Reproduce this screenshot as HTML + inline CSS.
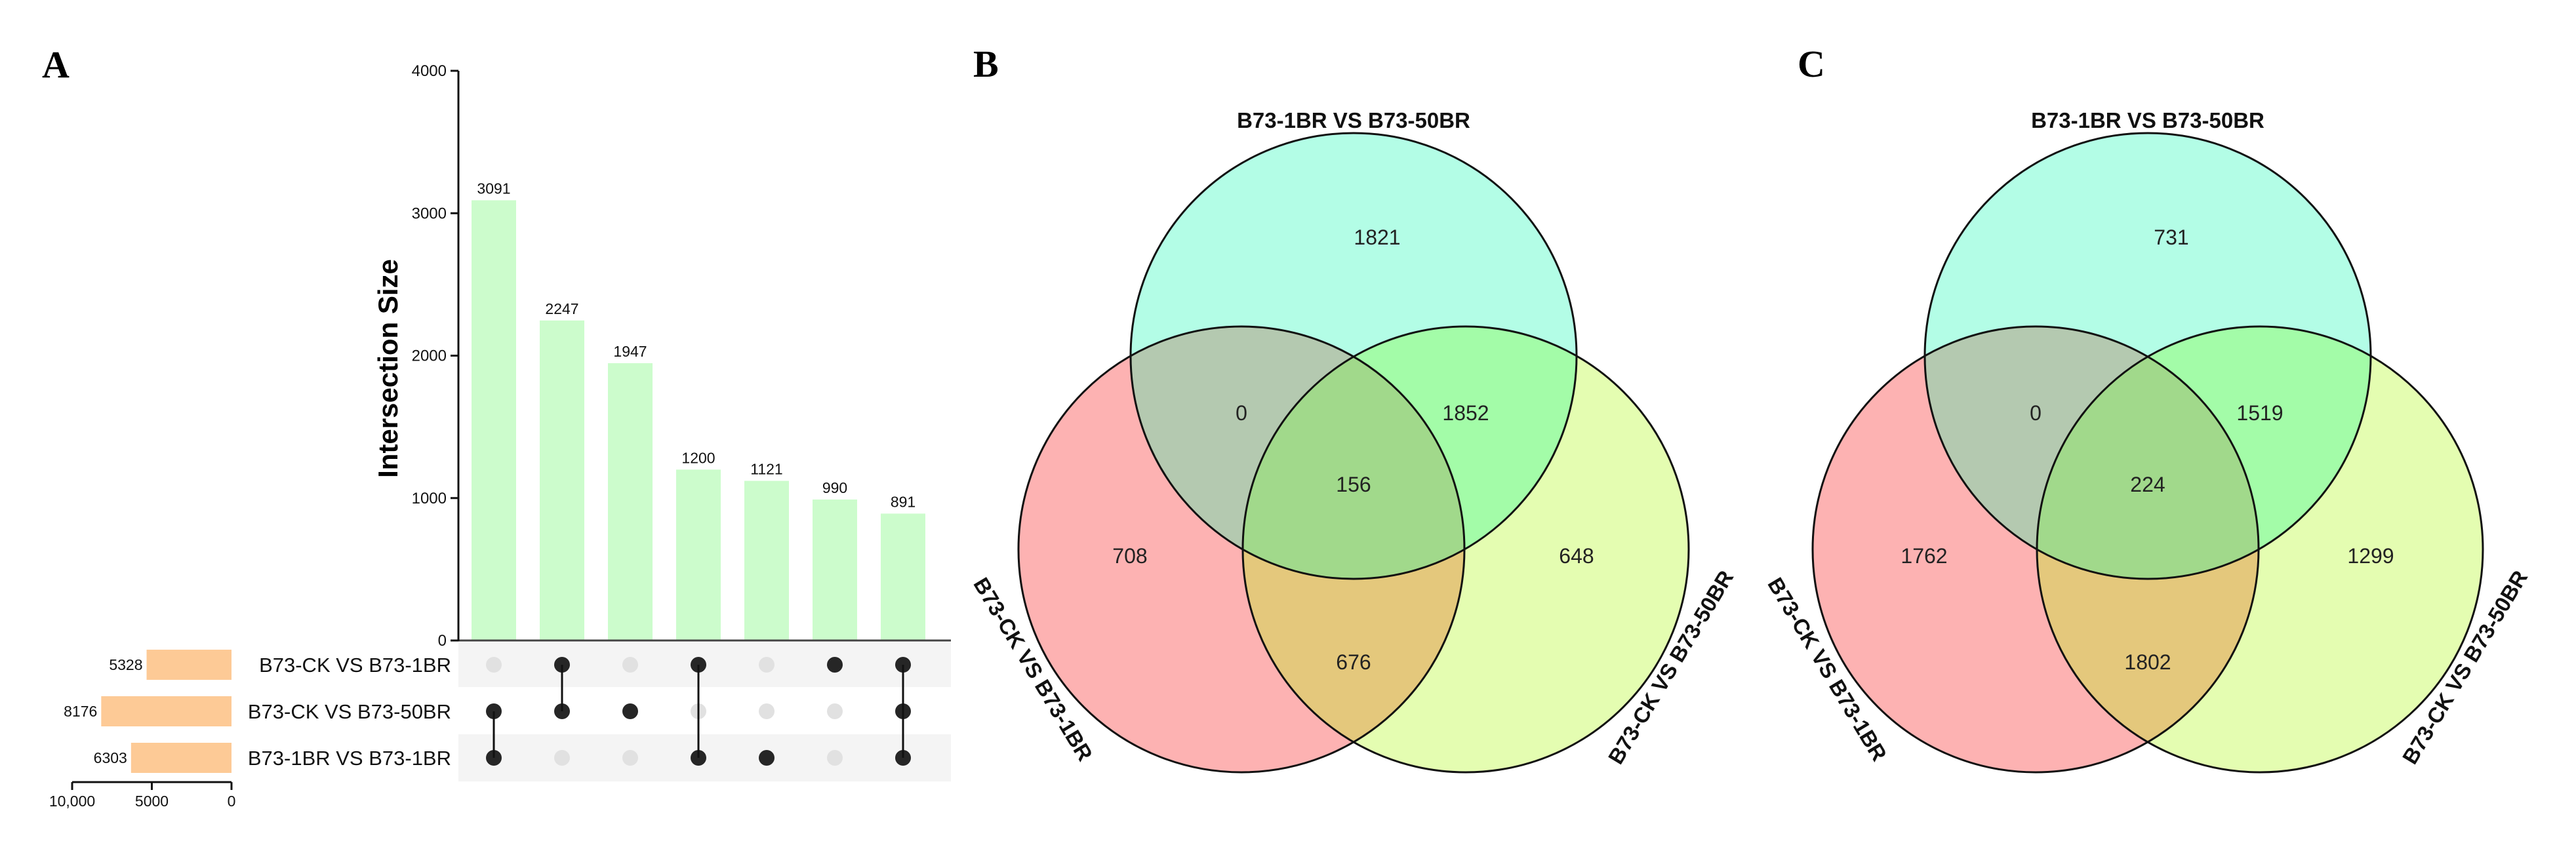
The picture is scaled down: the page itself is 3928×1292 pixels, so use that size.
<!DOCTYPE html>
<html>
<head>
<meta charset="utf-8">
<style>
  html,body{margin:0;padding:0;background:#fff;}
  svg{display:block;}
  text{font-family:"Liberation Sans",Arial,sans-serif;}
  text.plabel{font-family:"Liberation Serif","Times New Roman",serif;font-weight:bold;}
</style>
</head>
<body>
<svg id="fig" xmlns="http://www.w3.org/2000/svg" width="3928" height="1292" viewBox="0 0 3928 1292">
  <rect x="0" y="0" width="3928" height="1292" fill="#ffffff"/>
  <text class="plabel" x="64" y="118" style="font-family:'Liberation Serif',serif;font-weight:bold;font-size:58px" fill="#000">A</text>
  <text class="plabel" x="1484" y="117" style="font-family:'Liberation Serif',serif;font-weight:bold;font-size:58px" fill="#000">B</text>
  <text class="plabel" x="2741" y="117" style="font-family:'Liberation Serif',serif;font-weight:bold;font-size:58px" fill="#000">C</text>
  <g id="upset"></g>
  <g id="vennB"></g>
  <g id="vennC"></g>
</svg>
<script>
// ---------- UpSet data ----------
const intersectionSizes = [3091, 2247, 1947, 1200, 1121, 990, 891];
const yTicks = [0, 1000, 2000, 3000, 4000];
const setNames = ["B73-CK VS B73-1BR", "B73-CK VS B73-50BR", "B73-1BR VS B73-1BR"];
const setSizes = [5328, 8176, 6303];
const setTicks = [10000, 5000, 0];
const setTickLabels = ["10,000", "5000", "0"];
const membershipRow0 = [0, 1, 0, 1, 0, 1, 1];
const membershipRow1 = [1, 1, 1, 0, 0, 0, 1];
const membershipRow2 = [1, 0, 0, 1, 1, 0, 1];

// ---------- Venn data ----------
const vennTitles = ["B73-1BR VS B73-50BR", "B73-CK VS B73-1BR", "B73-CK VS B73-50BR"];
const vennBValues = [1821, 708, 648, 0, 1852, 676, 156]; // top, left, right, top&left, top&right, left&right, all
const vennCValues = [731, 1762, 1299, 0, 1519, 1802, 224];

const NS = "http://www.w3.org/2000/svg";
function mk(tag, attrs, parent) {
  const e = document.createElementNS(NS, tag);
  for (const k in attrs) e.setAttribute(k, attrs[k]);
  parent.appendChild(e);
  return e;
}

// ---------- UpSet ----------
(function () {
  const g = document.getElementById("upset");
  const axisX = 699, y0 = 977, y4000 = 108;
  const yScale = v => y0 - (v / 4000) * (y0 - y4000);
  const colX = i => 753 + i * 104;
  const barW = 68;
  const rowY = [1014, 1085, 1156];
  const rows = [membershipRow0, membershipRow1, membershipRow2];
  const setX = v => 353 - v * (353 - 110) / 10000;

  const b1 = mk("rect", {x: axisX, y: 980, width: 751, height: 68, fill: "#f4f4f4"}, g);
  
  
  const b3 = mk("rect", {x: axisX, y: 1120, width: 751, height: 72, fill: "#f4f4f4"}, g);
  
  

  intersectionSizes.forEach((v, i) => {
    const r = mk("rect", {x: colX(i) - barW / 2, y: yScale(v), width: barW, height: y0 - yScale(v), fill: "#ccfccc"}, g);
    
    
    const t = mk("text", {x: colX(i), y: yScale(v) - 10, "text-anchor": "middle", "font-size": "23", fill: "#111"}, g);
    t.textContent = v;
    
    
  });
  const bl = mk("line", {x1: axisX, y1: y0, x2: 1450, y2: y0, stroke: "#444", "stroke-width": 3}, g);
  
  
  const ya = mk("line", {x1: axisX, y1: y4000, x2: axisX, y2: y0 + 1, stroke: "#111", "stroke-width": 3}, g);
  
  
  yTicks.forEach(v => {
    const tk = mk("line", {x1: axisX - 12, y1: yScale(v), x2: axisX, y2: yScale(v), stroke: "#111", "stroke-width": 3}, g);
    
    
    const tl = mk("text", {x: axisX - 18, y: yScale(v) + 8, "text-anchor": "end", "font-size": "24", fill: "#111"}, g);
    tl.textContent = v;
    
    
  });
  const yt = mk("text", {x: 0, y: 0, transform: "translate(606,562) rotate(-90)", "text-anchor": "middle", "font-size": "42", "font-weight": "bold", fill: "#000"}, g);
  yt.textContent = "Intersection Size";
  
  

  intersectionSizes.forEach((v, i) => {
    const active = [];
    rows.forEach((row, r) => { if (row[i]) active.push(r); });
    rows.forEach((row, r) => {
      const c = mk("circle", {cx: colX(i), cy: rowY[r], r: 12, fill: row[i] ? "#262626" : "#e1e1e1"}, g);
      
      
    });
    if (active.length > 1) {
      const ln = mk("line", {x1: colX(i), y1: rowY[active[0]], x2: colX(i), y2: rowY[active[active.length - 1]], stroke: "#111", "stroke-width": 3}, g);
      
      
    }
  });

  setSizes.forEach((v, r) => {
    const rb = mk("rect", {x: setX(v), y: rowY[r] - 23, width: setX(0) - setX(v), height: 46, fill: "#fdca96"}, g);
    
    
    const lt = mk("text", {x: setX(v) - 6, y: rowY[r] + 8, "text-anchor": "end", "font-size": "23", fill: "#111"}, g);
    lt.textContent = v;
    
    
    const nm = mk("text", {x: 688, y: rowY[r] + 11, "text-anchor": "end", "font-size": "31", fill: "#111"}, g);
    nm.textContent = setNames[r];
    
    
  });
  const sa = mk("line", {x1: setX(10000), y1: 1193, x2: setX(0), y2: 1193, stroke: "#111", "stroke-width": 3}, g);
  
  
  setTicks.forEach((v, k) => {
    const tk = mk("line", {x1: setX(v), y1: 1193, x2: setX(v), y2: 1205, stroke: "#111", "stroke-width": 3}, g);
    
    
    const tl = mk("text", {x: setX(v), y: 1230, "text-anchor": "middle", "font-size": "23", fill: "#111"}, g);
    tl.textContent = setTickLabels[k];
    
    
  });
})();

// ---------- Venn ----------
function drawVenn(id, cx, values) {
  const g = document.getElementById(id);
  const R = 340;
  const T = {x: cx, y: 543}, L = {x: cx - 171, y: 838}, Rt = {x: cx + 171, y: 838};
  const defs = mk("defs", {}, g);
  const mkClip = (name, c) => {
    const cp = mk("clipPath", {id: id + name}, defs);
    mk("circle", {cx: c.x, cy: c.y, r: R}, cp);
  };
  mkClip("T", T); mkClip("L", L); mkClip("R", Rt);
  const circ = (c, fill, clip, nm) => {
    const a = {cx: c.x, cy: c.y, r: R, fill: fill};
    if (clip) a["clip-path"] = "url(#" + id + clip + ")";
    const el = mk("circle", a, g);
    
    
    return el;
  };
  circ(T, "#b3fde6", null, "circle-top");
  circ(L, "#fdb2b2", null, "circle-left");
  circ(Rt, "#e4fdb1", null, "circle-right");
  circ(L, "#b4c9b0", "T", "region-top-left");
  circ(Rt, "#a3fca8", "T", "region-top-right");
  circ(Rt, "#e4c87c", "L", "region-left-right");
  const gc = mk("g", {"clip-path": "url(#" + id + "T)"}, g);
  const center = mk("circle", {cx: Rt.x, cy: Rt.y, r: R, fill: "#a1d98b", "clip-path": "url(#" + id + "L)"}, gc);
  
  
  [T, L, Rt].forEach(c => {
    const o = mk("circle", {cx: c.x, cy: c.y, r: R, fill: "none", stroke: "#111", "stroke-width": 3}, g);
    
    
  });
  const pos = [[36, -181], [-341, 305], [340, 305], [-171, 87], [171, 87], [0, 467], [0, 196]];
  values.forEach((v, k) => {
    const t = mk("text", {x: cx + pos[k][0], y: 543 + pos[k][1] + 11, "text-anchor": "middle", "font-size": "32", fill: "#222"}, g);
    t.textContent = v;
    
    
  });
  const t0 = mk("text", {x: cx, y: 195, "text-anchor": "middle", "font-size": "33", "font-weight": "bold", fill: "#111"}, g);
  t0.textContent = vennTitles[0];
  
  
  const t1 = mk("text", {x: 0, y: 11, transform: "translate(" + (cx - 489) + ",1021) rotate(59)", "text-anchor": "middle", "font-size": "33", "font-weight": "bold", fill: "#111"}, g);
  t1.textContent = vennTitles[1];
  
  
  const t2 = mk("text", {x: 0, y: 11, transform: "translate(" + (cx + 484) + ",1018) rotate(-59)", "text-anchor": "middle", "font-size": "33", "font-weight": "bold", fill: "#111"}, g);
  t2.textContent = vennTitles[2];
  
  
}
drawVenn("vennB", 2064, vennBValues);
drawVenn("vennC", 3275, vennCValues);
</script>
</body>
</html>
